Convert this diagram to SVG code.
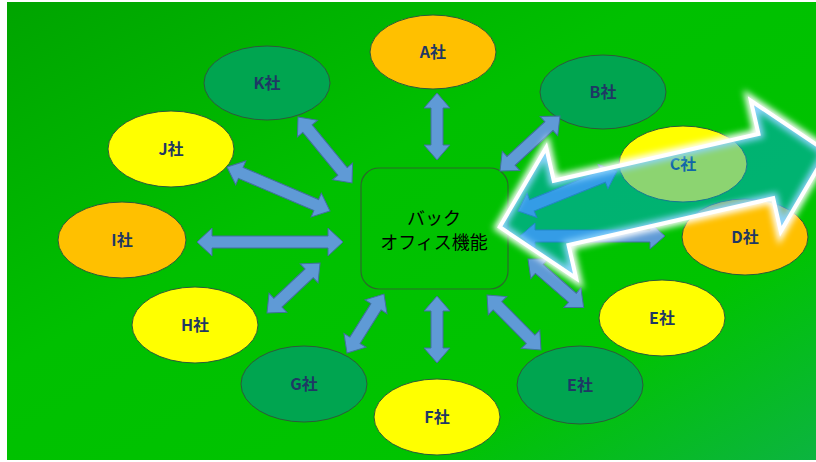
<svg xmlns="http://www.w3.org/2000/svg" width="816" height="462" viewBox="0 0 816 462">
  <defs>
    <linearGradient id="bg" x1="0" y1="0" x2="1" y2="1">
      <stop offset="0" stop-color="#00a400"/>
      <stop offset="0.4" stop-color="#00c000"/>
      <stop offset="0.75" stop-color="#00c400"/>
      <stop offset="1" stop-color="#0cb440"/>
    </linearGradient>
    <filter id="glow" x="-20%" y="-40%" width="140%" height="180%">
      <feGaussianBlur stdDeviation="3"/>
    </filter>
  </defs>
  <style>
    .node ellipse { stroke: #2d5a3a; stroke-width: 1; }
    .yellow { fill: #ffff00; }
    .orange { fill: #ffc000; }
    .teal { fill: #00a550; }
    .label { font-family: "Noto Sans CJK JP", "Noto Sans", sans-serif; font-weight: bold; font-size: 16px; fill: #1f3864; text-anchor: middle; }
    .hub rect { fill: none; stroke: #2a6a2a; stroke-width: 1.2; }
    .hub text { font-family: "Noto Sans CJK JP", "Noto Sans", sans-serif; font-size: 18px; fill: #000; text-anchor: middle; }
    .conn path { fill: #5f9ad6; stroke: #41709e; stroke-width: 1; stroke-linejoin: miter; }
  </style>

  <!-- page background -->
  <rect x="0" y="0" width="816" height="462" fill="#ffffff"/>
  <rect x="7" y="2" width="809" height="458" fill="url(#bg)"/>

  <!-- companies -->
  <g id="node-a" class="node"><ellipse class="orange" cx="433" cy="52" rx="63" ry="37"/><text class="label" x="433" y="58">A社</text></g>
  <g id="node-b" class="node"><ellipse class="teal" cx="603" cy="92" rx="63" ry="37"/><text class="label" x="603" y="98">B社</text></g>
  <g id="node-c" class="node"><ellipse class="yellow" cx="683" cy="164" rx="64" ry="38"/><text class="label" x="683" y="170">C社</text></g>
  <g id="node-d" class="node"><ellipse class="orange" cx="745" cy="237" rx="63" ry="38"/><text class="label" x="745" y="243">D社</text></g>
  <g id="node-e1" class="node"><ellipse class="yellow" cx="662" cy="318" rx="63" ry="38"/><text class="label" x="662" y="324">E社</text></g>
  <g id="node-e2" class="node"><ellipse class="teal" cx="580" cy="385" rx="63" ry="39"/><text class="label" x="580" y="391">E社</text></g>
  <g id="node-f" class="node"><ellipse class="yellow" cx="437" cy="417" rx="63" ry="38"/><text class="label" x="437" y="423">F社</text></g>
  <g id="node-g" class="node"><ellipse class="teal" cx="304" cy="384" rx="63" ry="38"/><text class="label" x="304" y="390">G社</text></g>
  <g id="node-h" class="node"><ellipse class="yellow" cx="195" cy="325" rx="63" ry="38"/><text class="label" x="195" y="331">H社</text></g>
  <g id="node-i" class="node"><ellipse class="orange" cx="122" cy="240" rx="64" ry="38"/><text class="label" x="122" y="246">I社</text></g>
  <g id="node-j" class="node"><ellipse class="yellow" cx="171" cy="149" rx="63" ry="38"/><text class="label" x="171" y="155">J社</text></g>
  <g id="node-k" class="node"><ellipse class="teal" cx="267" cy="83" rx="63" ry="37"/><text class="label" x="267" y="89">K社</text></g>

  <!-- central back-office box -->
  <g id="node-hub" class="hub">
    <rect x="361" y="168" width="147" height="121" rx="18"/>
    <text x="434" y="225">バック</text>
    <text x="434" y="249">オフィス機能</text>
  </g>

  <!-- double-headed block connectors: each drawn along +x from tip to tip, then placed -->
  <g id="connectors" class="conn">
    <path transform="translate(437 93) rotate(90)" d="M0 0 L15 -13 L15 -6 L52 -6 L52 -13 L67 0 L52 13 L52 6 L15 6 L15 13 Z"/>
    <path transform="translate(298 117) rotate(50.7)" d="M0 0 L15 -13 L15 -6 L70.3 -6 L70.3 -13 L85.3 0 L70.3 13 L70.3 6 L15 6 L15 13 Z"/>
    <path transform="translate(560 116) rotate(137.5)" d="M0 0 L15 -13 L15 -6 L66.4 -6 L66.4 -13 L81.4 0 L66.4 13 L66.4 6 L15 6 L15 13 Z"/>
    <path transform="translate(227 167) rotate(23.1)" d="M0 0 L15 -13 L15 -6 L97 -6 L97 -13 L112 0 L97 13 L97 6 L15 6 L15 13 Z"/>
    <path transform="translate(197 242)" d="M0 0 L15 -14 L15 -6 L131 -6 L131 -14 L146 0 L131 14 L131 6 L15 6 L15 14 Z"/>
    <path transform="translate(267 313) rotate(-43.3)" d="M0 0 L15 -13 L15 -6 L57.9 -6 L57.9 -13 L72.9 0 L57.9 13 L57.9 6 L15 6 L15 13 Z"/>
    <path transform="translate(347 353) rotate(-57.9)" d="M0 0 L15 -13 L15 -6 L54.6 -6 L54.6 -13 L69.6 0 L54.6 13 L54.6 6 L15 6 L15 13 Z"/>
    <path transform="translate(437 296) rotate(90)" d="M0 0 L15 -13 L15 -6 L52 -6 L52 -13 L67 0 L52 13 L52 6 L15 6 L15 13 Z"/>
    <path transform="translate(487 295) rotate(45.5)" d="M0 0 L15 -13 L15 -6 L62.1 -6 L62.1 -13 L77.1 0 L62.1 13 L62.1 6 L15 6 L15 13 Z"/>
    <path transform="translate(528 259) rotate(41.1)" d="M0 0 L15 -13 L15 -6 L58.9 -6 L58.9 -13 L73.9 0 L58.9 13 L58.9 6 L15 6 L15 13 Z"/>
    <path transform="translate(520 236)" d="M0 0 L15 -13 L15 -6 L130 -6 L130 -13 L145 0 L130 13 L130 6 L15 6 L15 13 Z"/>
    <path transform="translate(518 211) rotate(-22)" d="M0 0 L15 -13 L15 -6 L91.8 -6 L91.8 -13 L106.8 0 L91.8 13 L91.8 6 L15 6 L15 13 Z"/>
  </g>

  <!-- translucent left-right highlight arrow with a white glowing outline -->
  <g id="highlight-arrow" transform="translate(663.5 189.5) rotate(-12.9)">
    <path d="M-168 0 L-105 -67 L-105 -33 L105 -33 L105 -67 L168 0 L105 67 L105 33 L-105 33 L-105 67 Z" fill="none" stroke="#ffffff" stroke-width="10" stroke-linejoin="miter" filter="url(#glow)"/>
    <path d="M-168 0 L-105 -67 L-105 -33 L105 -33 L105 -67 L168 0 L105 67 L105 33 L-105 33 L-105 67 Z" fill="#00a0fa" fill-opacity="0.45" stroke="#ffffff" stroke-width="4" stroke-linejoin="miter"/>
  </g>
</svg>
